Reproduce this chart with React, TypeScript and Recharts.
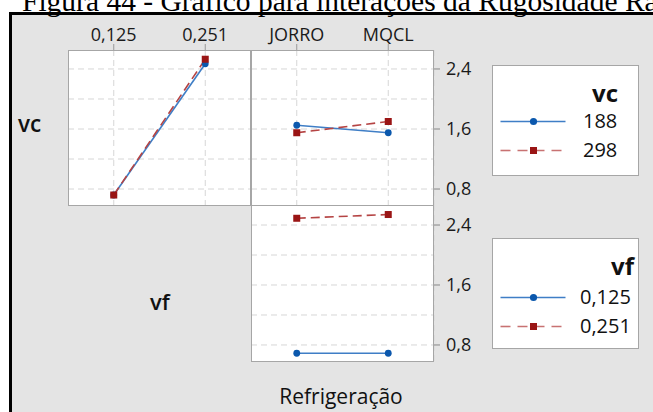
import React from 'react';
import { LineChart, Line, XAxis, YAxis, CartesianGrid } from 'recharts';

// factor levels (x categories)
const vfLevels = ['0,125', '0,251'];
const refrigLevels = ['JORRO', 'MQCL'];

// mean Ra, row vc / column vf
const vc188ByVf = [0.72, 2.47];
const vc298ByVf = [0.72, 2.53];
// row vc / column Refrigeração
const vc188ByRef = [1.65, 1.55];
const vc298ByRef = [1.55, 1.7];
// row vf / column Refrigeração
const vf125ByRef = [0.69, 0.69];
const vf251ByRef = [2.49, 2.54];

const gridTicks = [0.8, 1.2, 1.6, 2.0, 2.4];
const axisTicks = [0.8, 1.6, 2.4];
const vcLegend = ['188', '298'];
const vfLegend = ['0,125', '0,251'];

const FONT = '"Open Sans", "Noto Sans", sans-serif';
const BLUE = '#0b58ad';
const BLUE_LINE = '#3f7ec6';
const RED = '#9a1515';
const RED_LINE = '#b54444';
const GRID = '#d6d6d6';
const BORDER = '#a6a6a6';

const fmt = (v: number) => v.toFixed(1).replace('.', ',');

const mkData = (cats: string[], a: number[], b: number[]) =>
  cats.map((c, i) => ({ cat: c, a: a[i], b: b[i] }));

const panel1 = mkData(vfLevels, vc188ByVf, vc298ByVf);
const panel2 = mkData(refrigLevels, vc188ByRef, vc298ByRef);
const panel3 = mkData(refrigLevels, vf125ByRef, vf251ByRef);

const square = (props: any) => {
  const { cx, cy, index } = props;
  if (cx == null || cy == null) return <g key={`s-${index}`} />;
  return <rect key={`s-${index}`} x={cx - 3.5} y={cy - 3.5} width={7} height={7} fill={RED} />;
};

const blueDot = { r: 3.4, fill: BLUE, stroke: BLUE, strokeWidth: 0 };

function Panel({
  data, left, top, width, height, domain, topAxis, rightAxis,
}: {
  data: any[]; left: number; top: number; width: number; height: number;
  domain: [number, number]; topAxis: boolean; rightAxis: boolean;
}) {
  return (
    <div style={{ position: 'absolute', left, top }}>
      <LineChart
        width={width}
        height={height}
        data={data}
        margin={{ top: 0, right: 0, bottom: 0, left: 0 }}
      >
        <CartesianGrid
          strokeDasharray="6 4"
          stroke={GRID}
          fill="#fff"
          horizontalValues={gridTicks}
        />
        {topAxis ? (
          <XAxis
            dataKey="cat"
            scale="band"
            orientation="top"
            height={30}
            axisLine={false}
            tickSize={6}
            tickMargin={3}
            tickLine={{ stroke: '#999' }}
            tick={{ fill: '#1a1a1a', fontSize: 18, fontFamily: FONT }}
          />
        ) : (
          <XAxis dataKey="cat" scale="band" height={0} tick={false} axisLine={false} tickLine={false} />
        )}
        {rightAxis ? (
          <YAxis
            orientation="right"
            type="number"
            domain={domain}
            allowDataOverflow
            ticks={axisTicks}
            width={50}
            axisLine={false}
            tickSize={6}
            tickMargin={6}
            tickLine={{ stroke: '#888' }}
            tickFormatter={fmt}
            tick={{ fill: '#1a1a1a', fontSize: 18, fontFamily: FONT, textAnchor: 'start' }}
          />
        ) : (
          <YAxis type="number" domain={domain} allowDataOverflow hide />
        )}
        <Line
          type="linear"
          dataKey="a"
          stroke={BLUE_LINE}
          strokeWidth={1.6}
          dot={blueDot}
          activeDot={false}
          isAnimationActive={false}
        />
        <Line
          type="linear"
          dataKey="b"
          stroke={RED_LINE}
          strokeWidth={1.6}
          strokeDasharray="9 5"
          dot={square}
          activeDot={false}
          isAnimationActive={false}
        />
      </LineChart>
    </div>
  );
}

function LegendBox({ x, y, title, items, titleRight, textX, rows }: {
  x: number; y: number; title: string; items: string[]; titleRight: number; textX: number; rows: number[];
}) {
  return (
    <g>
      <rect x={x} y={y} width={146} height={110} fill="#fff" stroke={BORDER} strokeWidth={1} />
      <text x={titleRight} y={rows[0]} textAnchor="end" fontSize={24} fontWeight={700} fontFamily={FONT} fill="#111">{title}</text>
      {items.map((it, i) => {
        const ly = rows[i + 1] - 6.5;
        return (
          <g key={it}>
            <line x1={x + 8} x2={x + 73} y1={ly} y2={ly}
              stroke={i === 0 ? BLUE_LINE : '#c87272'} strokeWidth={1.6}
              strokeDasharray={i === 0 ? undefined : '10 7'} />
            {i === 0
              ? <circle cx={x + 41} cy={ly} r={3.6} fill={BLUE} />
              : <rect x={x + 37.5} y={ly - 3.5} width={7} height={7} fill={RED} />}
            <text x={textX} y={rows[i + 1]} fontSize={20} fontFamily={FONT} fill="#111">{it}</text>
          </g>
        );
      })}
    </g>
  );
}

export default function App() {
  return (
    <div style={{ position: 'absolute', left: 0, top: 0, width: 653, height: 412, overflow: 'hidden', background: '#fff' }}>
      <div style={{
        position: 'absolute', left: 9, top: 12, width: 700, height: 450,
        borderLeft: '3px solid #000', borderTop: '3px solid #000', background: '#e4e4e4',
      }} />
      <Panel data={panel1} left={68} top={20} width={183} height={185} domain={[0.587, 2.653]} topAxis rightAxis={false} />
      <Panel data={panel2} left={251} top={20} width={233} height={185} domain={[0.587, 2.653]} topAxis rightAxis />
      <Panel data={panel3} left={251} top={205} width={233} height={157} domain={[0.573, 2.667]} topAxis={false} rightAxis />
      <svg width={653} height={412} style={{ position: 'absolute', left: 0, top: 0, pointerEvents: 'none' }}>
        <text x={22} y={11} fontFamily='"Liberation Serif", serif' fontSize={29.5} fill="#000">
          Figura 44 - Gráfico para interações da Rugosidade Ra
        </text>
        <rect x={68.5} y={50.5} width={182} height={155} fill="none" stroke={BORDER} />
        <rect x={251.5} y={50.5} width={182} height={155} fill="none" stroke={BORDER} />
        <rect x={251.5} y={205.5} width={182} height={156} fill="none" stroke={BORDER} />
        <text x={18} y={132} fontSize={22.5} fontWeight={600} fontFamily={FONT} fill="#111">vc</text>
        <text x={150} y={310} fontSize={22} fontWeight={600} fontFamily={FONT} fill="#111">vf</text>
        <text x={341} y={404} textAnchor="middle" fontSize={21} fontFamily={FONT} fill="#111">Refrigeração</text>
        <LegendBox x={492.5} y={65.5} title="vc" items={vcLegend} titleRight={618} textX={583} rows={[102, 128, 157]} />
        <LegendBox x={492.5} y={238.5} title="vf" items={vfLegend} titleRight={634} textX={580} rows={[275, 304, 333]} />
      </svg>
    </div>
  );
}
